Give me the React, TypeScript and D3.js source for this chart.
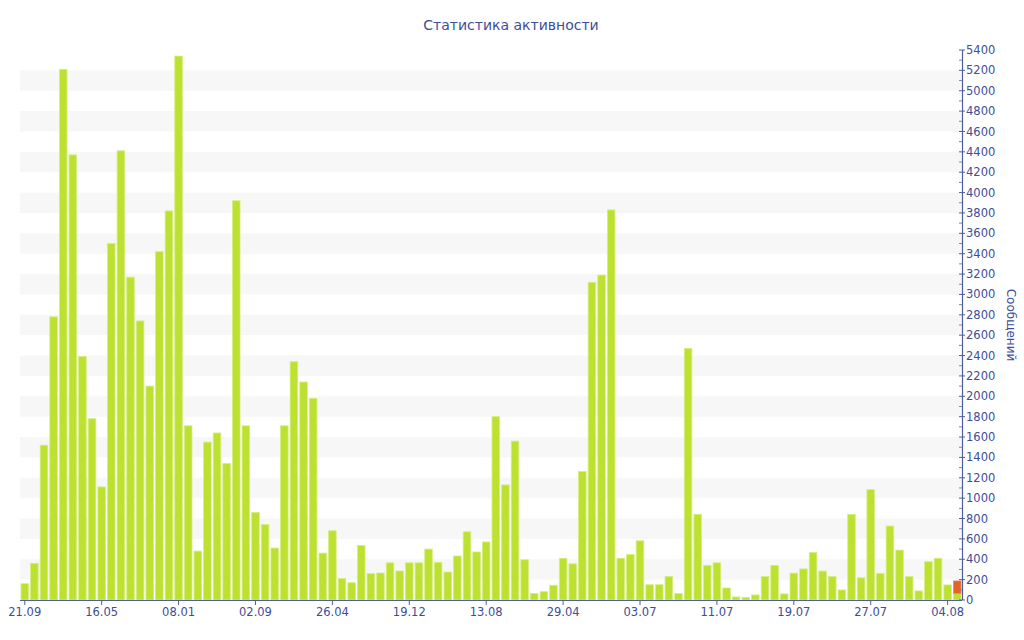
import React from 'react';
import * as d3 from 'd3';

const title = 'Статистика активности';
const yTitle = 'Сообщений';

// one entry per bar, left to right
const messages = [
  160, 360, 1520, 2780, 5210, 4370, 2390, 1780, 1110, 3500,
  4410, 3170, 2740, 2100, 3420, 3820, 5340, 1710, 480, 1550,
  1640, 1340, 3920, 1710, 860, 740, 510, 1710, 2340, 2140,
  1980, 460, 680, 210, 170, 535, 260, 265, 365, 285,
  365, 365, 500, 370, 275, 432, 670, 472, 570, 1800,
  1130, 1560, 395, 65, 82, 145, 410, 355, 1262, 3120,
  3190, 3830, 410, 446, 582, 150, 150, 232, 64, 2470,
  842, 340, 365, 118, 30, 26, 50, 230, 340, 60,
  264, 305, 466, 284, 230, 99, 840, 218, 1084, 262,
  726, 490, 230, 89, 376, 410, 148, 65,
];
// stacked on top of the last bar (current period)
const current = [
  ...new Array(97).fill(0), 122,
];

const xTickLabels = [
  '21.09', '16.05', '08.01', '02.09', '26.04', '19.12', '13.08',
  '29.04', '03.07', '11.07', '19.07', '27.07', '04.08',
];
const xTickStep = 8;
const yTicks = d3.range(0, 5401, 200);
const yMinor = d3.range(100, 5400, 200);

const W = 1024;
const H = 640;
const left = 20;
const right = 962;
const top = 50;
const bottom = 600;

const axisColor = '#4f5f9e';
const textColor = '#3d4e96';
const font = '"DejaVu Sans", Verdana, sans-serif';

export default function App() {
  const idx = d3.range(messages.length);
  const x = d3.scaleBand<number>().domain(idx).range([left, right]).paddingInner(0.21).paddingOuter(0.1);
  const y = d3.scaleLinear().domain([0, 5400]).range([bottom, top]);

  const bands = yTicks.slice(0, -1).filter(v => (v / 200) % 2 === 1);

  return (
    <svg width={W} height={H} style={{ position: 'absolute', left: 0, top: 0, display: 'block', background: '#fff' }}>
      {/* alternating bands */}
      <g>
        {bands.map(v => (
          <rect key={v} x={left} width={right - left} y={y(v + 200)} height={y(v) - y(v + 200)} fill="#f7f7f7" />
        ))}
      </g>

      {/* bars */}
      <g>
        {idx.map(i => (
          <rect
            key={'m' + i}
            x={x(i)!}
            width={x.bandwidth()}
            y={y(messages[i])}
            height={y(0) - y(messages[i])}
            fill="#bde130"
            stroke="#d6ee80"
            strokeWidth={0.8}
          />
        ))}
        {idx.filter(i => current[i] > 0).map(i => (
          <rect
            key={'c' + i}
            x={x(i)!}
            width={x.bandwidth()}
            y={y(messages[i] + current[i])}
            height={y(messages[i]) - y(messages[i] + current[i])}
            fill="#e2622b"
            stroke="#ee8a5c"
            strokeWidth={0.8}
          />
        ))}
      </g>

      {/* x axis */}
      <g>
        <line x1={left} x2={right} y1={bottom + 0.5} y2={bottom + 0.5} stroke={axisColor} strokeWidth={1.2} />
        {xTickLabels.map((lab, k) => {
          const cx = x(k * xTickStep)! + x.bandwidth() / 2;
          return (
            <g key={lab + k} transform={`translate(${cx},${bottom})`}>
              <line y1={0} y2={5} stroke={axisColor} />
              <text y={16} textAnchor="middle" fill={textColor} fontFamily={font} fontSize={11.5}>{lab}</text>
            </g>
          );
        })}
      </g>

      {/* y axis on the right */}
      <g>
        <line x1={right + 0.5} x2={right + 0.5} y1={top} y2={bottom} stroke={axisColor} strokeWidth={1.2} />
        {yMinor.map(v => (
          <line key={'n' + v} x1={right - 3} x2={right} y1={y(v)} y2={y(v)} stroke="#7a86b5" />
        ))}
        {yTicks.map(v => (
          <g key={v} transform={`translate(${right},${y(v)})`}>
            <line x1={-3} x2={3} stroke={axisColor} />
            <text x={4} dy="0.35em" fill={textColor} fontFamily={font} fontSize={11.5}>{v}</text>
          </g>
        ))}
        <text
          transform={`translate(1007,${(top + bottom) / 2}) rotate(90)`}
          textAnchor="middle"
          fill={textColor}
          fontFamily={font}
          fontSize={12}
        >
          {yTitle}
        </text>
      </g>

      <text x={511} y={30} textAnchor="middle" fill={textColor} fontFamily={font} fontSize={14}>{title}</text>
    </svg>
  );
}
